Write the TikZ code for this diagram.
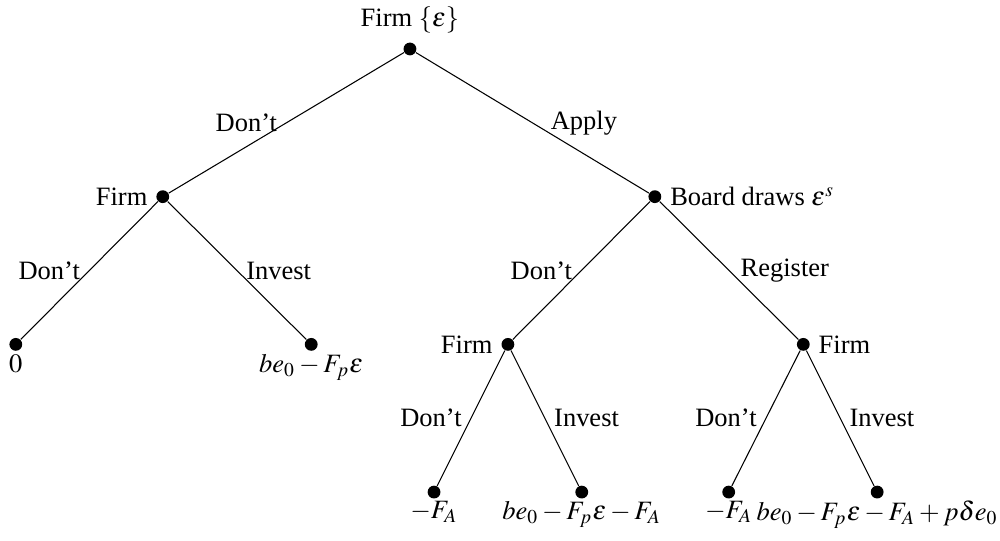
\documentclass[tikz,border=0pt]{standalone}
\usepackage{mathptmx}
\usepackage{fontspec}
\setmainfont{Liberation Serif}
\usepackage{tikz}
\usetikzlibrary{positioning}
\tikzset{every picture/.style={line width=0.4pt}}
\tikzset{
  dot/.style={circle, fill=black, inner sep=0pt, minimum size=0.17cm},
  lab/.style={midway}
}

\begin{document}
\begin{tikzpicture}
    \useasboundingbox (-5.44,0.65) rectangle (7.83,-6.52);

    % 决策节点
    \node[dot, label={[inner sep=3pt]above:Firm $\{\varepsilon\}$}] (root) at (0,0) {};
    \node[dot, label={[inner sep=3pt]left:Firm}] (firmA) at (-3.28,-1.96) {};
    \node[dot, label={[inner sep=3pt]right:Board draws $\varepsilon^s$}] (board) at (3.25,-1.96) {};
    \node[dot, label={[inner sep=3pt]left:Firm}] (firmB) at (1.30,-3.92) {};
    \node[dot, label={[inner sep=3pt]right:Firm}] (firmC) at (5.22,-3.92) {};

    % 终点与收益
    \node[dot, label={[inner sep=1pt]below:$0$}] (leafA) at (-5.23,-3.92) {};
    \node[dot, label={[inner sep=1pt]below:$be_0-F_p\varepsilon$}] (leafB) at (-1.31,-3.92) {};
    \node[dot, label={[inner sep=0.5pt]below:$-F_A$}] (leafC) at (0.32,-5.88) {};
    \node[dot, label={[inner sep=0.5pt]below:$be_0-F_p\varepsilon-F_A$}] (leafD) at (2.28,-5.88) {};
    \node[dot, label={[inner sep=0.5pt]below:$-F_A$}] (leafE) at (4.23,-5.88) {};
    \node[dot, label={[inner sep=0.5pt]below:$be_0-F_p\varepsilon-F_A+p\delta e_0$}] (leafF) at (6.20,-5.88) {};

    % 分支
    \draw (root) -- (firmA) node[lab, left] {Don't};
    \draw (root) -- (board) node[lab, right, xshift=0.12cm] {Apply};
    \draw (firmA) -- (leafA) node[lab, left] {Don't};
    \draw (firmA) -- (leafB) node[lab, right] {Invest};
    \draw (board) -- (firmB) node[lab, left] {Don't};
    \draw (board) -- (firmC) node[lab, right, xshift=0.03cm] {Register};
    \draw (firmB) -- (leafC) node[lab, left] {Don't};
    \draw (firmB) -- (leafD) node[lab, right] {Invest};
    \draw (firmC) -- (leafE) node[lab, left] {Don't};
    \draw (firmC) -- (leafF) node[lab, right] {Invest};
\end{tikzpicture}
\end{document}
